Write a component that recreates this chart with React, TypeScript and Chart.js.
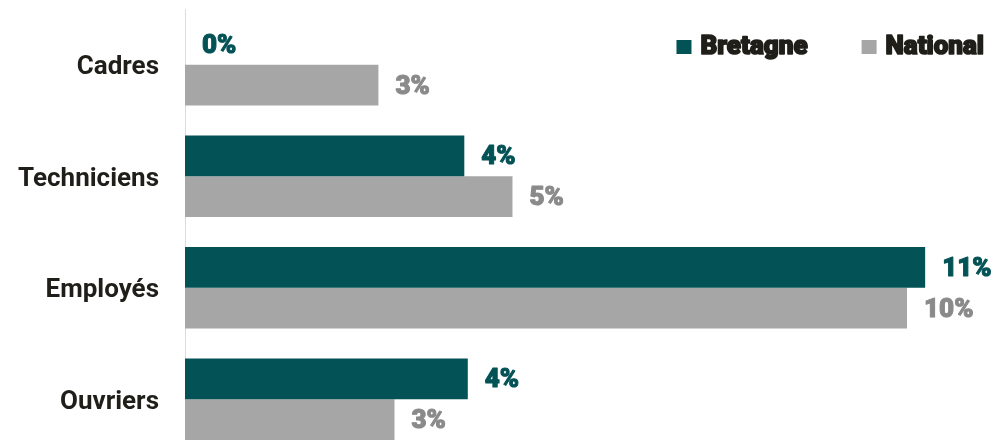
import React, { useEffect, useRef } from "react";
import { Chart, registerables } from "chart.js";

Chart.register(...registerables);

const categories = ["Cadres", "Techniciens", "Employés", "Ouvriers"];
const seriesNames = ["Bretagne", "National"];
const bretagneValues = [0, 4.0, 10.6, 4.05];
const nationalValues = [2.77, 4.69, 10.34, 3.0];

const TEAL = "#035256";
const GREY = "#a6a6a6";
const GREY_LABEL = "#8a8a8a";
const TEXT_DARK = "#1f1e19";

const heavyText = (ctx: any, text: string, x: number, y: number, color: string, sw: number) => {
  ctx.fillStyle = color;
  ctx.strokeStyle = color;
  ctx.lineWidth = sw;
  ctx.lineJoin = "round";
  ctx.strokeText(text, x, y);
  ctx.fillText(text, x, y);
};

const valueLabels = {
  id: "valueLabels",
  afterDatasetsDraw(chart: any) {
    const ctx = chart.ctx;
    ctx.save();
    ctx.font = "900 26px Roboto";
    ctx.textBaseline = "middle";
    ctx.textAlign = "left";
    chart.data.datasets.forEach((ds: any, di: number) => {
      const meta = chart.getDatasetMeta(di);
      meta.data.forEach((el: any, i: number) => {
        const v = ds.data[i];
        heavyText(ctx, Math.round(v) + "%", el.x + 17, el.y + 2, ds.labelColor, 1.0);
      });
    });
    ctx.restore();
  },
};

const topLegend = {
  id: "topLegend",
  afterDraw(chart: any) {
    const ctx = chart.ctx;
    ctx.save();
    ctx.font = "900 26px Roboto";
    ctx.textBaseline = "middle";
    ctx.textAlign = "left";
    const yMid = 47;
    let right = chart.width - 13;
    const items = chart.data.datasets.map((d: any) => d).reverse();
    items.forEach((ds: any) => {
      const w = ctx.measureText(ds.label).width;
      const tx = right - w;
      const bx = tx - 9 - 15;
      ctx.fillStyle = ds.backgroundColor;
      ctx.fillRect(bx, yMid - 7, 15, 14);
      heavyText(ctx, ds.label, tx, yMid, TEXT_DARK, 1.6);
      right = bx - 54;
    });
    ctx.restore();
  },
};

export default function App() {
  const ref = useRef<HTMLCanvasElement | null>(null);
  useEffect(() => {
    document.body.style.margin = "0";
    const chart = new Chart(ref.current as HTMLCanvasElement, {
      type: "bar",
      data: {
        labels: categories,
        datasets: [
          {
            label: seriesNames[0],
            data: bretagneValues,
            backgroundColor: TEAL,
            labelColor: TEAL,
          } as any,
          {
            label: seriesNames[1],
            data: nationalValues,
            backgroundColor: GREY,
            labelColor: GREY_LABEL,
          } as any,
        ],
      },
      options: {
        indexAxis: "y",
        animation: false,
        responsive: false,
        devicePixelRatio: 1,
        layout: { padding: { top: 9, right: 9, left: 0, bottom: 0 } },
        datasets: {
          bar: { categoryPercentage: 0.73, barPercentage: 1 },
        },
        plugins: {
          legend: { display: false },
          tooltip: { enabled: false },
        },
        scales: {
          x: { display: false, min: 0, max: 11.5 },
          y: {
            grid: { display: false, drawTicks: false },
            border: { display: true, color: "#dcdcdc", width: 1 },
            ticks: {
              color: TEXT_DARK,
              padding: 26,
              labelOffset: 3,
              font: { family: "Roboto", size: 26, weight: "bold" },
            },
            afterFit(scale: any) {
              scale.width = 185;
              scale.paddingTop = 0;
              scale.paddingBottom = 0;
            },
          },
        },
      },
      plugins: [valueLabels, topLegend],
    });
    return () => chart.destroy();
  }, []);
  return (
    <div
      style={{
        position: "fixed",
        left: 0,
        top: 0,
        width: 997,
        height: 440,
        overflow: "hidden",
        background: "#fff",
      }}
    >
      <canvas ref={ref} width={997} height={455} />
    </div>
  );
}
